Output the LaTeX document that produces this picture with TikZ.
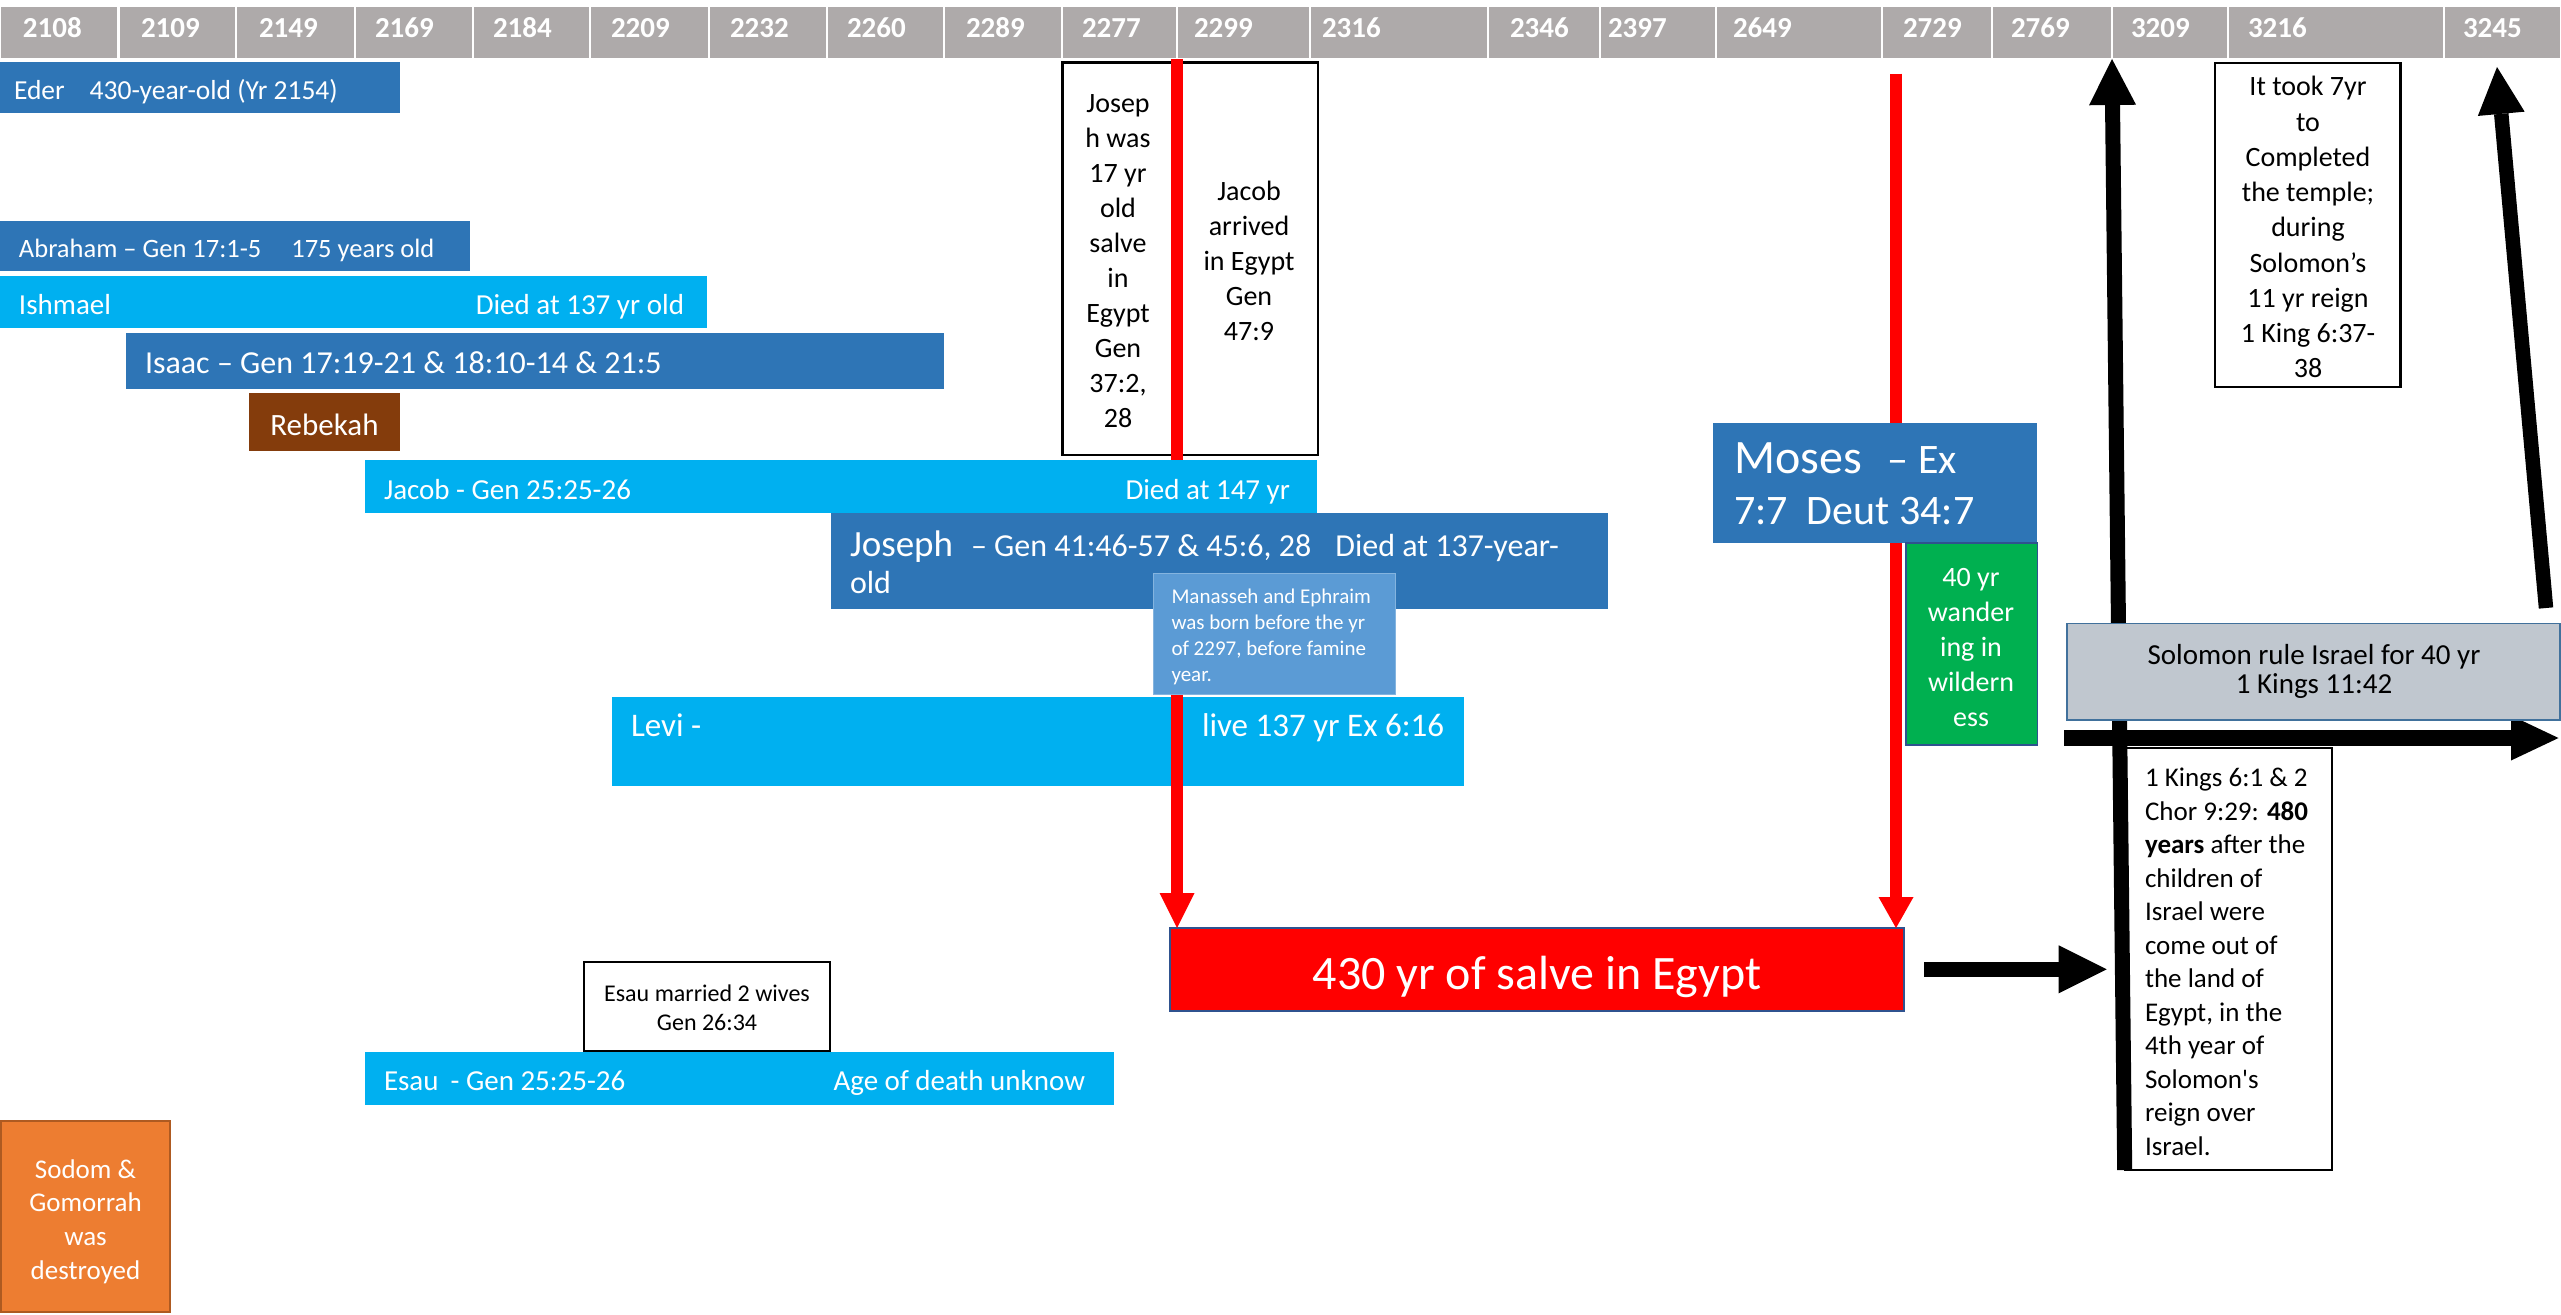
\documentclass[tikz,border=0pt]{standalone}
\usepackage{fontspec}
\setmainfont{Carlito}
\usetikzlibrary{arrows.meta}
\definecolor{hdrgrey}{HTML}{AEAAAA}
\definecolor{dblue}{HTML}{2E75B6}
\definecolor{lblue}{HTML}{00B0F0}
\definecolor{mblue}{HTML}{5B9BD5}
\definecolor{brownR}{HTML}{843C0C}
\definecolor{greenW}{HTML}{00B050}
\definecolor{orangeS}{HTML}{ED7D31}
\definecolor{orangeB}{HTML}{AE5A21}
\definecolor{solgrey}{HTML}{C0C7CF}
\definecolor{edgeblue}{HTML}{2F528F}
\definecolor{edgeblueB}{HTML}{41719C}
\newcommand\myfs[2]{\fontsize{#1pt}{#2pt}\selectfont}
\newcommand\rbox[6][]{%
  \pgfmathsetmacro\rbW{#5-#3}%
  \pgfmathsetmacro\rbH{#6-#4}%
  \node[bar,minimum width=\rbW pt,minimum height=\rbH pt,#1] (#2) at (#3,#4) {};%
}
\begin{document}
\begin{tikzpicture}[x=1pt,y=-1pt,
  bar/.style={shape=rectangle,anchor=north west,inner sep=0pt,outer sep=0pt},
  hdr/.style={fill=hdrgrey,draw=white,line width=2.5pt},
  txt/.style={inner sep=0pt,outer sep=0pt,text=white},
  btxt/.style={inner sep=0pt,outer sep=0pt,text=black},
  hdrtxt/.style={txt,font=\myfs{29}{35}\bfseries},
  frame/.style={fill=white,draw=black,line width=2.5pt},
  redarrow/.style={draw=red,line width=12pt,-{Triangle[length=35pt,width=35pt,line width=0pt]}},
  blkarrow/.style={draw=black,line width=15pt,-{Triangle[length=47pt,width=47pt,line width=0pt]}}]
\fill[white] (0,0) rectangle (2561,1314);
\useasboundingbox (0,0) rectangle (2561,1314);

% header
\foreach \a/\b/\t/\l [count=\i] in {0/118.6/23/2108, 118.6/236/141/2109, 236/355/259/2149,
  355/473/375/2169, 473/590/493/2184, 590/709/611/2209, 709/827/730/2232, 827/944/847/2260,
  944/1062/966/2289, 1062/1177/1082/2277, 1177/1310/1194/2299, 1310/1488/1322/2316,
  1488/1600/1510/2346, 1600/1716/1608/2397, 1716/1882/1733/2649, 1882/1992/1903/2729,
  1992/2112/2011/2769, 2112/2228/2131/3209, 2228/2444/2248/3216, 2444/2561/2463/3245} {
  \rbox[hdr]{h\i}{\a}{6}{\b}{59}
  \node[hdrtxt,anchor=base west] (ht\i) at (\t,37.5) {\l};
}

% Eder, Abraham, Ishmael, Isaac, Rebekah
\rbox[fill=dblue]{eder}{0}{62}{400}{113}
\node[txt,anchor=base west,font=\myfs{27.5}{33}] (edert) at (14,99.3) {Eder\hspace{25pt}430-year-old (Yr 2154)};
\rbox[fill=dblue]{abr}{0}{221}{470}{271}
\node[txt,anchor=base west,font=\myfs{26.5}{32}] (abrt) at (19,257.3) {Abraham – Gen 17:1-5\hspace{30pt}175 years old};
\rbox[fill=lblue]{ish}{0}{276}{707}{328}
\node[txt,anchor=base west,font=\myfs{29}{35}] (isht1) at (19,314) {Ishmael};
\node[txt,anchor=base east,font=\myfs{29}{35}] (isht2) at (684,314) {Died at 137 yr old};
\rbox[fill=dblue]{isaac}{126}{333}{944}{389}
\node[txt,anchor=base west,font=\myfs{32}{38}] (isaact) at (145,373.3) {Isaac – Gen 17:19-21 \& 18:10-14 \& 21:5};
\rbox[fill=brownR]{reb}{249}{393}{400}{451}
\node[txt,anchor=base,font=\myfs{31}{37}] (rebt) at (324.5,435) {Rebekah};

% Joseph / Jacob note boxes
\rbox[frame]{jsbox}{1062.5}{62.7}{1178}{455}
\rbox[frame]{jabox}{1178}{62.7}{1318}{455}
\node[btxt,anchor=north,align=center,font=\myfs{28}{35}] (jst) at (1118,87.5) {\strut Josep\\h was\\17 yr\\old\\salve\\in\\Egypt\\Gen\\37:2,\\28};
\node[btxt,anchor=north,align=center,font=\myfs{28}{35}] (jat) at (1249,175.5) {\strut Jacob\\arrived\\in Egypt\\Gen\\47:9};

% Levi
\rbox[fill=lblue]{levi}{612}{697}{1464}{786}
\node[txt,anchor=base west,font=\myfs{33}{40}] (levit1) at (631,736) {Levi -};
\node[txt,anchor=base west,font=\myfs{33}{40}] (levit2) at (1202,736) {live 137 yr Ex 6:16};

% Red box
\rbox[fill=red,draw=edgeblue,line width=2pt]{egypt}{1170}{928}{1903.5}{1010.7}
\node[txt,anchor=base,font=\myfs{48}{58}] (egyptt) at (1537,989) {430 yr of salve in Egypt};

% red line 1
\draw[redarrow] (h10.south east) -- (h10.south east |- egypt.north);

% Jacob, Joseph, Manasseh
\rbox[fill=lblue]{jacob}{365}{460}{1317}{513}
\node[txt,anchor=base west,font=\myfs{29}{35}] (jacobt1) at (384,499) {Jacob - Gen 25:25-26};
\node[txt,anchor=base east,font=\myfs{29}{35}] (jacobt2) at (1290,499) {Died at 147 yr};
\rbox[fill=dblue]{joseph}{831}{513}{1608}{609}
\node[txt,anchor=base west] (josepht1) at (850,556) {{\myfs{37}{44}Joseph}\hspace{18pt}{\myfs{32}{38}– Gen 41:46-57 \& 45:6, 28\hspace{24pt}Died at 137-year-}};
\node[txt,anchor=base west,font=\myfs{32}{38}] (josepht2) at (850,593) {old};
\rbox[fill=mblue,draw=mblue!75!white,line width=1pt]{man}{1153}{573}{1395}{694}
\node[txt,anchor=north west,align=left,font=\myfs{21}{25.7}] (mant) at (1171.5,586) {\strut Manasseh and Ephraim\\was born before the yr\\of 2297, before famine\\year.};

% Esau
\rbox[frame]{esaum}{584}{962}{830}{1051}
\node[btxt,anchor=north,align=center,font=\myfs{24}{28.3}] (esaumt) at (707,981.9) {\strut Esau married 2 wives\\Gen 26:34};
\rbox[fill=lblue]{esau}{365}{1052}{1114}{1105}
\node[txt,anchor=base west,font=\myfs{29}{35}] (esaut1) at (384,1090) {Esau\hspace{12pt}- Gen 25:25-26};
\node[txt,anchor=base east,font=\myfs{29}{35}] (esaut2) at (1085,1090) {Age of death unknow};

% Sodom
\rbox[fill=orangeS,draw=orangeB,line width=2pt]{sodom}{1}{1121}{170}{1312}
\node[txt,anchor=north,align=center,font=\myfs{27}{33.6}] (sodomt) at (85.5,1154.8) {\strut Sodom \&\\Gomorrah\\was\\destroyed};

% Moses line, Moses box, wilderness
\coordinate (m0) at (1896,73.5);
\draw[redarrow,-{Triangle[length=31pt,width=35pt,line width=0pt]}] (m0) -- (m0 |- egypt.north);
\rbox[fill=dblue]{moses}{1713}{422.6}{2037}{543}
\node[txt,anchor=base west] (mosest1) at (1734,473) {{\myfs{48}{58}Moses}\hspace{26pt}{\myfs{42}{50}– Ex}};
\node[txt,anchor=base west,font=\myfs{42}{50}] (mosest2) at (1734,524) {7:7\hspace{19pt}Deut 34:7};
\rbox[fill=greenW,draw=edgeblue,line width=1.5pt]{wild}{1906}{543}{2037.6}{745}
\node[txt,anchor=north,align=center,font=\myfs{28}{34.8}] (wildt) at (1971,562.6) {\strut 40 yr\\wander\\ing in\\wildern\\ess};

% temple box
\rbox[frame]{temple}{2215}{63}{2400.7}{387}
\node[btxt,anchor=north,align=center,font=\myfs{28}{35.25}] (templet) at (2308,71.3) {\strut It took 7yr\\to\\Completed\\the temple;\\during\\Solomon’s\\11 yr reign\\1 King 6:37-\\38};

% 1 Kings box
\rbox[fill=white,draw=black,line width=2pt]{kings}{2124.7}{748}{2332}{1170}
\node[btxt,anchor=north west,align=left,font=\myfs{27}{33.5}] (kingst) at (2145,763.5) {\strut 1 Kings 6:1 \& 2\\Chor 9:29: \textbf{480}\\\textbf{years} after the\\children of\\Israel were\\come out of\\the land of\\Egypt, in the\\4th year of\\Solomon\textquotesingle s\\reign over\\Israel.};

% black arrows
\draw[blkarrow,-{Triangle[length=46pt,width=47pt,line width=0pt]}] (kings.south west) -- (h18.south west);
\coordinate (a3s) at (2064,738);
\coordinate (a3e) at (2558.5,738);
\draw[blkarrow,line width=15.5pt,-{Triangle[length=47.5pt,width=45pt,line width=0pt]}] (a3s) -- (a3e);
\coordinate (a2s) at (2546,608);
\coordinate (a2e) at (2497,67);
\draw[blkarrow,line width=14.5pt] (a2s) -- (a2e);
\draw[blkarrow,line width=15.7pt,-{Triangle[length=48pt,width=48pt,line width=0pt]}] ([xshift=20.5pt]egypt.east) -- ([xshift=-18pt]egypt.east -| kings.west);

% Solomon box
\rbox[fill=solgrey,draw=edgeblueB,line width=1.5pt]{solomon}{2067}{623.5}{2560}{720}
\node[btxt,anchor=north,align=center,font=\myfs{29}{29}] (solomont) at (2314,643.7) {\strut Solomon rule Israel for 40 yr\\1 Kings 11:42};
\end{tikzpicture}
\end{document}
